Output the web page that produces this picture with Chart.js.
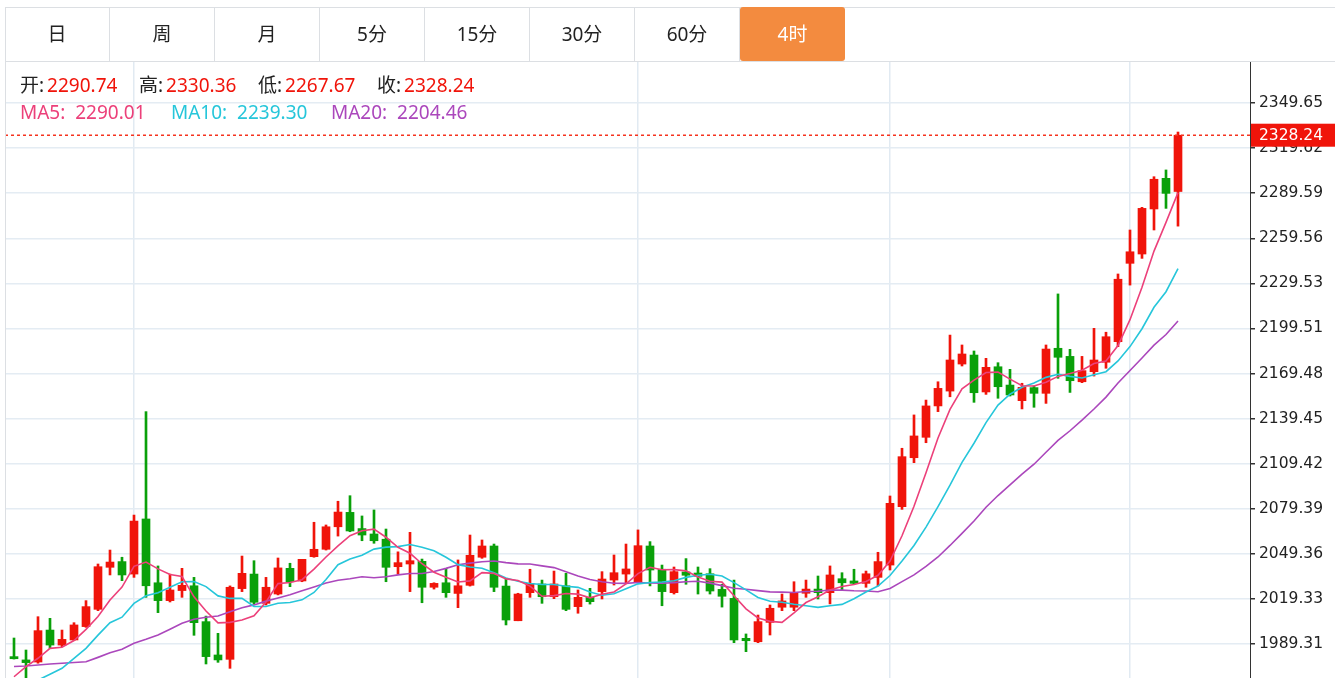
<!DOCTYPE html>
<html lang="zh">
<head>
<meta charset="UTF-8">
<title>4时 K线</title>
<script src="https://cdn.jsdelivr.net/npm/chart.js"></script>
<style>
  body { margin: 0; width: 1335px; height: 678px; overflow: hidden; background: #fff;
         font-family: "Noto Sans", "Noto Sans CJK SC", sans-serif; }
  #chart { position: absolute; left: 0; top: 0; }
  #frame { position: absolute; left: 5px; top: 7px; width: 1330px; height: 671px;
           border-left: 1px solid #dcdfe3; border-top: 1px solid #dcdfe3; box-sizing: border-box; }
  #tabs { position: absolute; left: 5px; top: 7px; width: 1330px; height: 55px;
          border-bottom: 1px solid #dcdfe3; box-sizing: border-box; }
  .tab { position: absolute; top: 0; width: 105px; height: 54px; line-height: 54px; text-align: center;
         font-size: 19px; color: #222; border-right: 1px solid #dcdfe3; box-sizing: border-box; }
  .tab.on { background: #f38b3f; color: #fff; border-right: none; border-radius: 3px; }
  .info { position: absolute; left: 20px; font-size: 19px; line-height: 26px; white-space: nowrap; }
  .info .g { display: inline-block; }
  .k { color: #222; }
  .v { color: #f0140a; margin-left: 3px; }
</style>
</head>
<body>
<canvas id="chart" width="1335" height="678"></canvas>
<div id="frame"></div>
<div id="tabs"></div>
<div class="info" id="ohlc" style="top:72px"></div>
<div class="info" id="mas" style="top:99px"></div>
<script>
const tabNames = ['日', '周', '月', '5分', '15分', '30分', '60分', '4时'];
const yTicks = [1989.31, 2019.33, 2049.36, 2079.39, 2109.42, 2139.45, 2169.48, 2199.51, 2229.53, 2259.56, 2289.59, 2319.62, 2349.65];
const dayBreaks = [10, 52, 73, 93];

const opens = [1980.9, 1978.7, 1977.3, 1998.6, 1988.6, 1992.0, 2000.9, 2012.4, 2040.4, 2044.2,
  2035.9, 2072.6, 2030.1, 2018.2, 2024.9, 2028.1, 2004.2, 1982.0, 1979.1, 2026.2,
  2035.9, 2016.4, 2022.6, 2039.7, 2031.3, 2047.5, 2052.4, 2067.4, 2077.0, 2066.2,
  2062.6, 2059.1, 2040.8, 2042.6, 2044.4, 2027.1, 2030.1, 2023.0, 2028.4, 2047.1,
  2054.6, 2027.9, 2004.8, 2023.5, 2029.3, 2020.8, 2028.1, 2014.2, 2020.4, 2024.2,
  2031.9, 2035.9, 2030.6, 2054.6, 2039.1, 2023.5, 2037.3, 2036.6, 2036.1, 2025.7,
  2019.7, 1993.1, 1990.8, 2003.7, 2013.8, 2013.8, 2023.1, 2025.9, 2023.5, 2032.8,
  2031.3, 2029.7, 2033.7, 2041.9, 2080.8, 2113.4, 2127.0, 2147.9, 2157.8, 2175.8,
  2181.8, 2157.2, 2174.0, 2161.8, 2151.4, 2160.1, 2156.3, 2186.3, 2180.9, 2164.0,
  2170.7, 2177.0, 2190.7, 2242.9, 2249.1, 2279.1, 2299.5, 2290.74];
const highs = [1993.3, 1985.3, 2007.5, 2006.4, 1998.6, 2003.5, 2018.2, 2042.6, 2051.9, 2047.1,
  2075.2, 2144.1, 2041.3, 2035.9, 2039.7, 2033.7, 2007.9, 1996.4, 2028.0, 2047.9,
  2044.8, 2033.7, 2046.6, 2043.1, 2045.7, 2070.4, 2068.6, 2084.4, 2088.1, 2074.6,
  2078.6, 2065.9, 2050.7, 2063.7, 2045.9, 2030.1, 2039.7, 2045.3, 2061.9, 2058.6,
  2055.9, 2033.0, 2023.1, 2039.1, 2031.9, 2037.9, 2036.4, 2025.3, 2026.4, 2037.5,
  2048.6, 2055.9, 2065.3, 2057.5, 2041.9, 2040.6, 2046.2, 2040.6, 2039.5, 2029.1,
  2031.9, 1996.0, 2008.6, 2015.3, 2022.6, 2030.8, 2031.9, 2034.6, 2041.3, 2036.8,
  2039.1, 2037.9, 2050.4, 2087.9, 2119.7, 2141.9, 2151.8, 2164.0, 2195.1, 2188.5,
  2184.5, 2179.6, 2176.7, 2172.3, 2163.0, 2161.2, 2188.5, 2222.5, 2185.6, 2180.9,
  2199.6, 2197.0, 2235.8, 2265.1, 2280.2, 2300.6, 2305.1, 2330.36];
const lows = [1979.3, 1965.3, 1976.5, 1986.4, 1987.5, 1991.5, 2000.4, 2011.5, 2035.3, 2031.5,
  2033.7, 2020.4, 2010.2, 2017.3, 2020.4, 1995.1, 1976.0, 1977.1, 1973.1, 2024.2,
  2015.9, 2015.3, 2022.0, 2027.5, 2030.8, 2047.1, 2051.9, 2061.2, 2064.1, 2058.1,
  2056.4, 2030.8, 2035.9, 2024.2, 2016.8, 2025.9, 2020.4, 2013.5, 2027.9, 2046.4,
  2024.2, 2002.0, 2004.8, 2020.4, 2016.4, 2019.5, 2011.5, 2009.8, 2015.9, 2019.3,
  2028.6, 2030.1, 2030.1, 2028.0, 2014.8, 2022.6, 2029.1, 2022.6, 2022.6, 2013.9,
  1990.2, 1984.2, 1990.2, 1995.3, 2011.5, 2011.5, 2020.4, 2019.3, 2016.0, 2025.3,
  2029.3, 2027.1, 2028.0, 2038.6, 2079.0, 2110.1, 2123.4, 2144.1, 2154.0, 2174.5,
  2150.3, 2155.6, 2153.0, 2154.5, 2145.9, 2147.0, 2149.6, 2166.3, 2156.9, 2163.4,
  2167.8, 2173.0, 2187.4, 2228.4, 2246.2, 2265.1, 2279.5, 2267.67];
const closes = [1979.5, 1976.9, 1998.2, 1988.6, 1992.4, 2002.0, 2014.2, 2040.8, 2043.9, 2035.3,
  2071.2, 2028.1, 2018.2, 2025.3, 2028.4, 2003.5, 1980.9, 1978.7, 2027.1, 2036.4,
  2017.1, 2027.1, 2040.0, 2030.8, 2045.7, 2052.4, 2067.4, 2077.2, 2064.6, 2061.9,
  2058.1, 2040.4, 2043.5, 2044.8, 2027.1, 2029.7, 2023.5, 2028.1, 2048.4, 2054.6,
  2027.1, 2005.3, 2022.6, 2029.7, 2020.8, 2029.3, 2012.4, 2020.4, 2017.5, 2032.6,
  2036.8, 2039.3, 2054.8, 2038.6, 2024.2, 2037.5, 2035.1, 2034.4, 2024.6, 2021.1,
  1992.0, 1991.5, 2004.2, 2013.1, 2018.0, 2023.5, 2025.9, 2023.5, 2035.3, 2030.1,
  2029.7, 2036.1, 2044.2, 2083.0, 2114.1, 2127.9, 2147.9, 2159.6, 2178.5, 2182.5,
  2156.7, 2173.6, 2160.7, 2155.2, 2160.3, 2156.3, 2185.8, 2180.3, 2164.7, 2171.4,
  2178.5, 2194.0, 2232.3, 2250.6, 2279.5, 2298.9, 2289.5, 2328.24];

const ma5 = [1967.5, 1974.2, 1979.8, 1986.4, 1987.12, 1991.62, 1999.08, 2007.60, 2018.66, 2027.24,
  2041.08, 2043.86, 2039.34, 2035.62, 2034.24, 2020.70, 2011.26, 2003.36, 2003.72, 2005.32,
  2008.04, 2017.28, 2029.54, 2030.28, 2032.14, 2039.20, 2047.26, 2054.70, 2061.46, 2064.70,
  2065.84, 2060.44, 2053.70, 2049.74, 2042.78, 2037.10, 2033.72, 2030.64, 2031.36, 2036.86,
  2036.34, 2032.70, 2031.60, 2027.86, 2021.10, 2021.54, 2022.96, 2022.52, 2020.08, 2022.44,
  2023.94, 2029.32, 2036.20, 2040.42, 2038.74, 2038.88, 2038.04, 2033.96, 2031.16, 2030.54,
  2021.44, 2012.72, 2006.68, 2004.38, 2003.76, 2010.06, 2016.94, 2020.80, 2025.24, 2027.66,
  2028.90, 2030.94, 2035.08, 2044.62, 2061.42, 2081.06, 2103.42, 2126.50, 2145.60, 2159.28,
  2165.04, 2170.18, 2170.40, 2165.74, 2161.30, 2161.22, 2163.66, 2167.58, 2169.48, 2171.70,
  2176.14, 2177.78, 2188.18, 2205.36, 2226.98, 2251.06, 2270.16, 2290.01];
const ma10 = [1957.0, 1961.0, 1965.3, 1969.1, 1973.1, 1979.8, 1986.4, 1995.2, 2003.5, 2007.18,
  2016.35, 2021.47, 2023.47, 2027.14, 2030.74, 2030.89, 2027.56, 2021.35, 2019.67, 2019.78,
  2014.37, 2014.27, 2016.45, 2017.00, 2018.73, 2023.62, 2032.27, 2042.12, 2045.87, 2048.42,
  2052.52, 2053.85, 2054.20, 2055.60, 2053.74, 2051.47, 2047.08, 2042.17, 2040.55, 2039.82,
  2036.72, 2033.21, 2031.12, 2029.61, 2028.98, 2028.94, 2027.83, 2027.06, 2023.97, 2021.77,
  2022.74, 2026.14, 2029.36, 2030.25, 2030.59, 2031.41, 2033.68, 2035.08, 2035.79, 2034.64,
  2030.16, 2025.38, 2020.32, 2017.77, 2017.15, 2015.75, 2014.83, 2013.74, 2014.81, 2015.71,
  2019.48, 2023.94, 2027.94, 2034.93, 2044.54, 2054.98, 2067.18, 2080.79, 2095.11, 2110.35,
  2123.05, 2136.80, 2148.45, 2155.67, 2160.29, 2163.13, 2166.92, 2168.99, 2167.61, 2166.50,
  2168.68, 2170.72, 2177.88, 2187.42, 2199.34, 2213.60, 2223.97, 2239.30];
const ma20 = [1974.3, 1974.7, 1975.3, 1976.0, 1976.5, 1977.0, 1977.5, 1980.4, 1983.5, 1985.8,
  1989.8, 1992.4, 1995.3, 1999.1, 2003.1, 2005.8, 2007.1, 2008.0, 2010.8, 2013.48,
  2015.36, 2017.87, 2019.96, 2022.07, 2024.74, 2027.26, 2029.92, 2031.74, 2032.77, 2034.10,
  2033.45, 2034.06, 2035.33, 2036.30, 2036.24, 2037.55, 2039.68, 2042.15, 2043.21, 2044.12,
  2044.62, 2043.53, 2042.66, 2042.61, 2041.36, 2040.21, 2037.46, 2034.62, 2032.26, 2030.80,
  2029.73, 2029.68, 2030.24, 2029.93, 2029.79, 2030.18, 2030.76, 2031.07, 2029.88, 2028.21,
  2026.45, 2025.76, 2024.84, 2024.01, 2023.87, 2023.58, 2024.26, 2024.41, 2025.30, 2025.18,
  2024.82, 2024.66, 2024.13, 2026.35, 2030.85, 2035.37, 2041.01, 2047.27, 2054.96, 2063.03,
  2071.27, 2080.37, 2088.20, 2095.30, 2102.42, 2109.06, 2117.05, 2124.89, 2131.36, 2138.43,
  2145.87, 2153.76, 2163.17, 2171.55, 2179.82, 2188.37, 2195.45, 2204.46];

const RED = '#f0140a';
const GREEN = '#0aa00a';
const last = opens.length - 1;

// tabs
const tabs = document.getElementById('tabs');
tabNames.forEach((name, k) => {
    const d = document.createElement('div');
    d.className = 'tab' + (k === tabNames.length - 1 ? ' on' : '');
    d.style.left = (105 * k) + 'px';
    d.textContent = name;
    tabs.appendChild(d);
});

// header text
const ohlc = [['开', opens[last]], ['高', highs[last]], ['低', lows[last]], ['收', closes[last]]];
document.getElementById('ohlc').innerHTML = ohlc
    .map(p => `<span class="g" style="width:119px"><span class="k">${p[0]}:</span><span class="v">${p[1].toFixed(2)}</span></span>`)
    .join('');
const maInfo = [['MA5', ma5[last], '#ec407a', 151], ['MA10', ma10[last], '#26c6da', 160], ['MA20', ma20[last], '#ab47bc', 160]];
document.getElementById('mas').innerHTML = maInfo
    .map(m => `<span class="g" style="color:${m[2]};width:${m[3]}px">${m[0]}:&nbsp; ${m[1].toFixed(2)}</span>`)
    .join('');

const idx = opens.map((_, i) => i);
const colors = closes.map((c, i) => (c >= opens[i] ? RED : GREEN));

const priceMarker = {
    id: 'priceMarker',
    afterDatasetsDraw(chart) {
        const { ctx, chartArea } = chart;
        const y = chart.scales.y.getPixelForValue(closes[last]);
        ctx.save();
        ctx.strokeStyle = '#f5331f';
        ctx.lineWidth = 1.5;
        ctx.setLineDash([3, 3]);
        ctx.beginPath();
        ctx.moveTo(chartArea.left, y);
        ctx.lineTo(chartArea.right, y);
        ctx.stroke();
        ctx.restore();
    },
    afterDraw(chart) {
        const { ctx, chartArea } = chart;
        const y = chart.scales.y.getPixelForValue(closes[last]);
        ctx.save();
        ctx.fillStyle = RED;
        ctx.fillRect(chartArea.right + 1, y - 11.5, chart.width - chartArea.right - 1, 23);
        ctx.fillStyle = '#fff';
        ctx.font = '15.5px "DejaVu Sans"';
        ctx.textBaseline = 'middle';
        ctx.fillText(closes[last].toFixed(2), chartArea.right + 9, y + 1);
        ctx.restore();
    }
};

const lineSet = (data, color) => ({
    type: 'line',
    data: idx.map(i => ({ x: i, y: data[i] })),
    borderColor: color,
    borderWidth: 1.6,
    pointRadius: 0,
    tension: 0,
    order: 1
});

new Chart(document.getElementById('chart'), {
    type: 'bar',
    data: {
        datasets: [
            {
                data: idx.map(i => ({ x: i, y: [lows[i], highs[i]] })),
                backgroundColor: colors,
                barThickness: 2,
                grouped: false,
                order: 3
            },
            {
                data: idx.map(i => ({ x: i, y: [opens[i], closes[i]] })),
                backgroundColor: colors,
                barThickness: 8,
                minBarLength: 1.5,
                grouped: false,
                order: 2
            },
            lineSet(ma5, '#ec407a'),
            lineSet(ma10, '#26c6da'),
            lineSet(ma20, '#ab47bc')
        ]
    },
    options: {
        responsive: false,
        animation: false,
        events: [],
        layout: { padding: { left: 5, top: 62, right: 0, bottom: 0 } },
        plugins: { legend: { display: false }, tooltip: { enabled: false } },
        scales: {
            x: {
                type: 'linear',
                min: -0.75,
                max: 103,
                offset: false,
                afterBuildTicks: s => { s.ticks = dayBreaks.map(v => ({ value: v })); },
                afterFit: s => { s.height = 0; s.paddingLeft = 0; s.paddingRight = 0; },
                ticks: { display: false },
                grid: { offset: false, color: '#e1eaf2', lineWidth: 1.5, drawTicks: false },
                border: { display: false }
            },
            y: {
                position: 'right',
                min: 1966.66,
                max: 2377.01,
                afterBuildTicks: s => { s.ticks = yTicks.map(v => ({ value: v })); },
                afterFit: s => { s.width = 85; s.paddingTop = 0; s.paddingBottom = 0; },
                ticks: {
                    callback: v => v.toFixed(2),
                    font: { family: 'DejaVu Sans', size: 15.5 },
                    color: '#222',
                    padding: 4
                },
                grid: { color: '#e4ecf3', lineWidth: 1.5, tickLength: 5, tickColor: '#333' },
                border: { color: '#333', width: 1 }
            }
        }
    },
    plugins: [priceMarker]
});
</script>
</body>
</html>
